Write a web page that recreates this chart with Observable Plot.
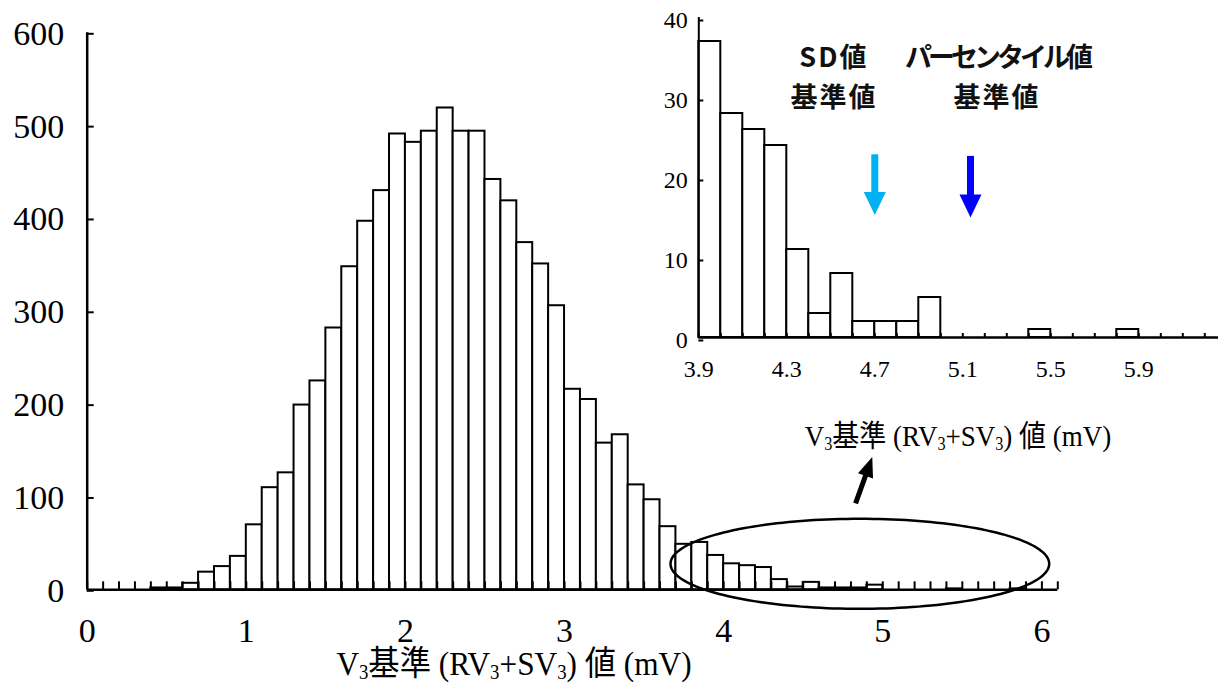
<!DOCTYPE html>
<html><head><meta charset="utf-8">
<script src="https://cdn.jsdelivr.net/npm/d3@7"></script>
<script src="https://cdn.jsdelivr.net/npm/@observablehq/plot@0.6"></script>
<style>
html,body{margin:0;padding:0;background:#fff;}
#wrap{position:relative;width:1218px;height:687px;overflow:hidden;background:#fff;}
#wrap svg{position:absolute;left:0;top:0;}
.lbl{position:absolute;font-family:"Liberation Serif","Times New Roman","Noto Sans CJK JP",serif;color:#000;white-space:nowrap;line-height:0.8;transform-origin:center;}
.lbl sub{font-size:0.6em;vertical-align:baseline;position:relative;top:0.22em;line-height:0;}
</style></head><body>
<div id="wrap">
  <div class="lbl" id="xtitle" style="left:514px;top:664px;font-size:34px;transform:translate(-50%,-50%) scaleX(0.92);">V<sub>3</sub>基準 (RV<sub>3</sub>+SV<sub>3</sub>) 値 (mV)</div>
  <div class="lbl" id="itit" style="left:958px;top:436px;font-size:30px;transform:translate(-50%,-50%) scaleX(0.9);">V<sub>3</sub>基準 (RV<sub>3</sub>+SV<sub>3</sub>) 値 (mV)</div>
</div>
<script>
// ---- data ----
const binStarts = [0.0,0.1,0.2,0.3,0.4,0.5,0.6,0.7,0.8,0.9,1.0,1.1,1.2,1.3,1.4,1.5,1.6,1.7,1.8,1.9,2.0,2.1,2.2,2.3,2.4,2.5,2.6,2.7,2.8,2.9,3.0,3.1,3.2,3.3,3.4,3.5,3.6,3.7,3.8,3.9,4.0,4.1,4.2,4.3,4.4,4.5,4.6,4.7,4.8,4.9,5.0,5.1,5.2,5.3,5.4,5.5,5.6,5.7,5.8,5.9,6.0];
const counts    = [0,0,0,0,2,2,7,19,25,36,70,110,126,199,225,282,348,397,430,491,482,494,519,494,494,442,419,374,351,306,216,205,158,167,113,97,68,49,51,37,28,26,24,11,3,8,2,2,2,5,0,0,0,0,1,0,0,0,1,0,0];
const binWidth = 0.1;
const mainXLabels = [0,1,2,3,4,5,6];
const mainYTicks = [0,100,200,300,400,500,600];
const insetXLabels = [3.9,4.3,4.7,5.1,5.5,5.9];
const insetYTicks = [0,10,20,30,40];
const insetStart = 3.9;
const annotations = [
  {x: 4.514, y: 32.9, text: "SD値\n基準値"},
  {x: 5.256, y: 32.9, text: "パーセンタイル値\n基準値"}
];
const sdArrow  = {x: 4.70,  yTop: 22.9, yTip: 15.3};
const pctArrow = {x: 5.135, yTop: 22.7, yTip: 15.0};
const zoomArrow = {x1: 4.829, y1: 93, x2: 4.934, y2: 143};
const ellipse = {cx: 4.856, cy: 28, rx: 1.19, ry: 48.5};

// ---- layout ----
const W = 1218, H = 687;
const M = {left: 86.7, right: 160.7, top: 32.3, bottom: 97.7};
const mainXDomain = [0, 6.1], mainYDomain = [0, 600];
const I = {left: 698.3, right: 0, top: 17, bottom: 350};
const insetXDomain = [3.9, 3.9 + (W - I.left) / 220];
const insetYDomain = [0, 40];

const bins = binStarts.map((x0, i) => ({x0, x1: +(x0 + binWidth).toFixed(2), count: counts[i]}));
const mainBins = bins.filter(d => d.count > 0);
const insetBins = bins.filter(d => d.x0 >= insetStart - 1e-9 && d.count > 0);
const mainMinor = d3.range(0, 62).map(i => i / 10);
const insetMinor = d3.range(39, 63).map(i => i / 10);

const ellipsePts = d3.range(0, 361, 2).map(a => ({
  x: ellipse.cx + ellipse.rx * Math.cos(a * Math.PI / 180),
  y: ellipse.cy + ellipse.ry * Math.sin(a * Math.PI / 180)
}));

// arrow head symbol: tip at origin, pointing in screen direction theta (deg, 0 = up, clockwise)
function head(theta, L, Wd) {
  const t = theta * Math.PI / 180;
  const dx = Math.sin(t), dy = -Math.cos(t);
  const px = Math.cos(t), py = Math.sin(t);
  return {draw(ctx) {
    ctx.moveTo(0, 0);
    ctx.lineTo(-L * dx + Wd / 2 * px, -L * dy + Wd / 2 * py);
    ctx.lineTo(-L * dx - Wd / 2 * px, -L * dy - Wd / 2 * py);
    ctx.closePath();
  }};
}
const kx = (W - M.left - M.right) / (mainXDomain[1] - mainXDomain[0]);
const ky = (H - M.top - M.bottom) / (mainYDomain[1] - mainYDomain[0]);
const zdx = (zoomArrow.x2 - zoomArrow.x1) * kx, zdy = (zoomArrow.y2 - zoomArrow.y1) * ky;
const zTheta = Math.atan2(zdx, zdy) * 180 / Math.PI;
const zFrac = 1 - 14 / Math.hypot(zdx, zdy);
const zoomShaft = [{x1: zoomArrow.x1, y1: zoomArrow.y1,
  x2: zoomArrow.x1 + (zoomArrow.x2 - zoomArrow.x1) * zFrac,
  y2: zoomArrow.y1 + (zoomArrow.y2 - zoomArrow.y1) * zFrac}];

const serif = "'Liberation Serif', 'Times New Roman', serif";

const main = Plot.plot({
  width: W, height: H,
  marginLeft: M.left, marginRight: M.right, marginTop: M.top, marginBottom: M.bottom,
  style: {fontFamily: serif, fontSize: "34px", background: "transparent", color: "#000", overflow: "visible"},
  x: {domain: mainXDomain},
  y: {domain: mainYDomain},
  marks: [
    Plot.rectY(mainBins, {x1: "x0", x2: "x1", y: "count", fill: "white", stroke: "black", strokeWidth: 2}),
    Plot.axisX(mainMinor, {tickSize: -8, tickFormat: () => "", label: null, strokeWidth: 2}),
    Plot.axisX(mainXLabels, {tickSize: 0, tickPadding: 28, label: null, tickFormat: d => String(d)}),
    Plot.axisY(mainYTicks, {tickSize: -7, tickPadding: 30, label: null, strokeWidth: 2, dy: 1, tickFormat: d => String(d)}),
    Plot.ruleX([0], {strokeWidth: 2.5}),
    Plot.ruleY([0], {strokeWidth: 2.5}),
    Plot.line(ellipsePts, {x: "x", y: "y", stroke: "black", strokeWidth: 2.5}),
    Plot.link(zoomShaft, {x1: "x1", y1: "y1", x2: "x2", y2: "y2", stroke: "black", strokeWidth: 5}),
    Plot.dot([zoomArrow], {x: "x2", y: "y2", fill: "black", stroke: null, symbol: head(zTheta, 20, 16)})
  ]
});

const inset = Plot.plot({
  width: W, height: H,
  marginLeft: I.left, marginRight: I.right, marginTop: I.top, marginBottom: I.bottom,
  style: {fontFamily: serif, fontSize: "24px", background: "transparent", color: "#000", overflow: "visible"},
  x: {domain: insetXDomain},
  y: {domain: insetYDomain},
  marks: [
    Plot.rectY(insetBins, {x1: "x0", x2: "x1", y: "count", fill: "white", stroke: "black", strokeWidth: 2}),
    Plot.axisX(insetMinor, {tickSize: -4, tickFormat: () => "", label: null, strokeWidth: 2}),
    Plot.axisX(insetXLabels, {tickSize: 0, tickPadding: 22, label: null, tickFormat: d => d.toFixed(1)}),
    Plot.axisY(insetYTicks, {tickSize: -5, tickPadding: 16, label: null, strokeWidth: 2, dy: 3, tickFormat: d => String(d)}),
    Plot.ruleX([insetStart], {strokeWidth: 2}),
    Plot.ruleY([0], {strokeWidth: 2.5}),
    Plot.text(annotations, {x: "x", y: "y", text: "text", lineHeight: 1.47, fontFamily: "'Noto Sans CJK JP', sans-serif", fontWeight: "bold", fontSize: 27, fill: "#111"}),
    Plot.link([sdArrow], {x1: "x", x2: "x", y1: "yTop", y2: d => d.yTip + 2, stroke: "#00B0F0", strokeWidth: 7}),
    Plot.dot([sdArrow], {x: "x", y: "yTip", fill: "#00B0F0", stroke: null, symbol: head(180, 23, 22)}),
    Plot.link([pctArrow], {x1: "x", x2: "x", y1: "yTop", y2: d => d.yTip + 2, stroke: "#0000FF", strokeWidth: 7}),
    Plot.dot([pctArrow], {x: "x", y: "yTip", fill: "#0000FF", stroke: null, symbol: head(180, 23, 22)})
  ]
});

d3.select(inset).selectAll("tspan").style("letter-spacing", "2px");
d3.select(inset).selectAll("tspan").filter(function() { return this.textContent === "パーセンタイル値"; })
  .style("letter-spacing", "-4px");

const wrap = document.getElementById("wrap");
wrap.insertBefore(main, wrap.firstChild);
wrap.insertBefore(inset, main.nextSibling);
</script>
</body></html>
